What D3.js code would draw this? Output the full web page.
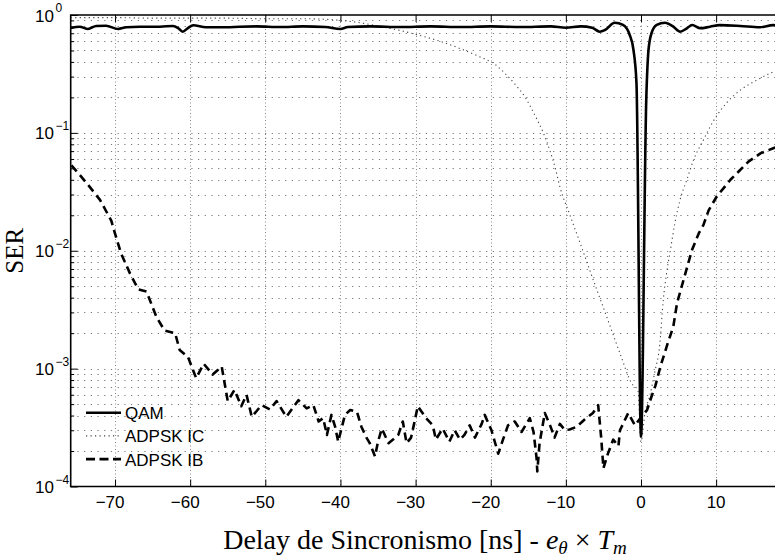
<!DOCTYPE html>
<html>
<head>
<meta charset="utf-8">
<script src="https://cdn.jsdelivr.net/npm/d3@7/dist/d3.min.js"></script>
<style>
  body { margin: 0; background: #fff; }
  svg { display: block; }
</style>
</head>
<body>
<div id="chart"></div>
<script>
// axis ticks
var xTicks = [-70, -60, -50, -40, -30, -20, -10, 0, 10];
var yDecades = [-4, -3, -2, -1, 0];

// QAM (solid)
var qamDelay = [-75.9, -74.7, -73.6, -72.5, -71.2, -69.6, -68.5, -66.7, -64, -62.3, -61.6, -61, -60.3, -59.6, -57.9, -55.2, -53.4, -51.2,
  -48, -45, -42, -40, -39, -36, -32, -28, -24, -20, -16, -12, -10, -8, -6.5,
  -5.5, -4.8, -3.5, -2.4, -1.5, -1.0, -0.6, 0, 0.7, 1.0, 1.4, 2.1, 3.2, 4.3, 5.2, 6.1, 6.8, 7.9, 9.2, 10.5, 13.2, 15.8, 17.6, 18.5];
var qamSer = [0.775, 0.796, 0.761, 0.807, 0.81, 0.761, 0.787, 0.796, 0.796, 0.807, 0.775, 0.722, 0.775, 0.818, 0.787, 0.787, 0.796, 0.80,
  0.79, 0.80, 0.79, 0.76, 0.79, 0.80, 0.79, 0.80, 0.79, 0.80, 0.79, 0.80, 0.78, 0.80, 0.78,
  0.722, 0.746, 0.86, 0.823, 0.677, 0.505, 0.263, 2.65e-4, 0.19, 0.505, 0.70, 0.823, 0.86, 0.796, 0.722, 0.771, 0.823, 0.771, 0.796, 0.82, 0.807, 0.787, 0.82, 0.81];

// ADPSK IC (dotted)
var icDelay = [-75.9, -70, -65, -60, -55, -50, -45, -42, -40, -37.4, -34.8, -32.1, -29.4, -26.8, -24.1, -21.4, -19.4, -18.1, -16.8, -15.4, -14.1,
  -13, -12.1, -11.4, -10.8, -9.45, -8.1, -6.35, -4.57, -2.8, -1.24, -0.4, 0, 0.53, 1.2, 1.86, 2.5, 2.96, 3.4, 3.9, 4.5, 5.2, 6.1, 7.0, 8.3,
  9.6, 11.4, 13.2, 15.4, 17.6, 18.5];
var icSer = [0.95, 0.95, 0.94, 0.94, 0.94, 0.93, 0.93, 0.92, 0.9, 0.86, 0.8, 0.74, 0.67, 0.6, 0.52, 0.44, 0.38, 0.32, 0.26, 0.2, 0.14,
  0.1, 0.07, 0.05, 0.035, 0.020, 0.0116, 5.65e-3, 2.76e-3, 1.35e-3, 7.5e-4, 6.5e-4, 2.4e-4, 4.2e-4, 6.0e-4, 9.5e-4, 1.6e-3, 3.8e-3, 6.4e-3, 0.010, 0.017, 0.027, 0.04, 0.059, 0.087,
  0.125, 0.18, 0.23, 0.28, 0.33, 0.35];

// ADPSK IB (dashed)
var ibDelay = [-75.8, -74.5, -73.4, -72.0, -70.5, -70.0, -69.2, -68.0, -66.9, -65.8, -64.5, -63.4, -62.0, -61.4, -60.3, -59.2, -58.2, -57.0,
  -55.8, -55.0, -54.1, -53.2, -52.5, -51.8, -50.5, -49.4, -48.5, -47.2, -45.6, -44.5, -43.6, -42.9, -42.3, -41.8, -41.2, -40.7, -40.3,
  -39.4, -38.7, -37.8, -37.2, -36.5, -36.1, -35.4, -35.0, -34.5, -33.6, -33.0, -32.3, -31.7, -31.2, -30.6, -30.2, -29.7, -28.6, -27.7,
  -27.3, -26.4, -25.5, -24.8, -24.1, -23.5, -22.8, -22.1, -21.2, -20.8, -19.9, -19.0, -18.3, -17.7, -16.8, -15.9, -14.8, -14.3, -13.9,
  -13.8, -13.5, -12.8, -12.1, -11.5, -10.8, -10.1, -9.5, -8.6, -7.5, -6.4, -5.7, -5.3, -5.0, -4.4, -3.7, -3.0, -2.8, -1.7, -0.8, -0.1,
  0.8, 1.4, 1.9, 2.6, 3.5, 4.3, 4.8, 5.9, 6.8, 7.7, 8.3, 9.0, 10.1, 11.0, 11.9, 13.0, 14.3, 15.9, 17.6, 18.5];
var ibSer = [0.053, 0.0425, 0.035, 0.027, 0.018, 0.014, 9.5e-3, 6.4e-3, 4.7e-3, 4.5e-3, 2.75e-3, 2.1e-3, 2.0e-3, 1.44e-3, 1.26e-3, 8.3e-4, 1.1e-3, 8.9e-4,
  1.04e-3, 5.3e-4, 6.6e-4, 4.8e-4, 6.0e-4, 3.9e-4, 4.9e-4, 4.5e-4, 5.3e-4, 3.9e-4, 5.4e-4, 4.6e-4, 4.9e-4, 3.56e-4, 3.8e-4, 2.74e-4, 4.05e-4, 3.2e-4, 2.4e-4,
  4.05e-4, 4.45e-4, 4.3e-4, 3.2e-4, 2.57e-4, 2.33e-4, 1.8e-4, 2.4e-4, 3.1e-4, 2.33e-4, 2.5e-4, 2.74e-4, 3.56e-4, 2.33e-4, 2.6e-4, 3.4e-4, 4.8e-4, 3.8e-4, 3.3e-4,
  2.5e-4, 3.1e-4, 2.4e-4, 3.0e-4, 2.5e-4, 2.74e-4, 3.3e-4, 2.6e-4, 3.4e-4, 4.05e-4, 3.0e-4, 1.9e-4, 2.57e-4, 3.3e-4, 3.56e-4, 2.9e-4, 3.8e-4, 2.9e-4, 1.75e-4,
  1.34e-4, 2.33e-4, 4.2e-4, 3.3e-4, 2.6e-4, 3.4e-4, 3.0e-4, 3.05e-4, 3.2e-4, 3.7e-4, 4.2e-4, 4.9e-4, 2.6e-4, 1.43e-4, 1.9e-4, 2.5e-4, 2.2e-4, 3.0e-4, 4.2e-4, 3.3e-4, 3.8e-4,
  4.45e-4, 5.8e-4, 7.1e-4, 1.05e-3, 1.6e-3, 2.27e-3, 3.6e-3, 6.4e-3, 0.0102, 0.0141, 0.0165, 0.022, 0.029, 0.034, 0.040, 0.047, 0.057, 0.067, 0.074, 0.078];

var W = 775, H = 558;
// plot box (right edge lies just past the window)
var pL = 70.7, pR = 780, pT = 15, pB = 486.5;

var svg = d3.select("#chart").append("svg")
  .attr("width", W).attr("height", H);

var x = d3.scaleLinear().domain([-75.9, 18.5]).range([pL, pR]);
var y = d3.scaleLog().domain([1e-4, 1]).range([pB, pT]);

// log ticks: decades + minor
var majorY = yDecades.map(function(e){ return Math.pow(10, e); });
var minorY = [];
for (var e = -4; e < 0; e++) {
  for (var m = 2; m <= 9; m++) minorY.push(m * Math.pow(10, e));
}

svg.append("defs").append("clipPath").attr("id", "clip")
  .append("rect").attr("x", pL).attr("y", pT)
  .attr("width", pR - pL).attr("height", pB - pT);

// grid
var grid = svg.append("g");
grid.selectAll(".gx").data(xTicks).enter().append("line")
  .attr("x1", function(d){ return Math.round(x(d)) + 0.5; })
  .attr("x2", function(d){ return Math.round(x(d)) + 0.5; })
  .attr("y1", pT).attr("y2", pB)
  .attr("stroke", "#888").attr("stroke-width", 1)
  .attr("stroke-dasharray", "1,2.5");
grid.selectAll(".gy").data(majorY.slice(1, -1).concat(minorY)).enter().append("line")
  .attr("x1", pL).attr("x2", pR)
  .attr("y1", function(d){ return Math.round(y(d)) + 0.5; })
  .attr("y2", function(d){ return Math.round(y(d)) + 0.5; })
  .attr("stroke", "#777").attr("stroke-width", 1)
  .attr("stroke-dasharray", "1.2,5.5");

// ticks (inward) via axes
function noDomain(g){ g.select(".domain").remove(); }
svg.append("g").attr("transform", "translate(0," + pB + ")")
  .call(d3.axisBottom(x).tickValues(xTicks).tickSize(-7).tickFormat("")).call(noDomain);
svg.append("g").attr("transform", "translate(0," + pT + ")")
  .call(d3.axisTop(x).tickValues(xTicks).tickSize(-7).tickFormat("")).call(noDomain);
svg.append("g").attr("transform", "translate(" + pL + ",0)")
  .call(d3.axisLeft(y).tickValues(majorY).tickSize(-7).tickFormat("")).call(noDomain);
svg.append("g").attr("transform", "translate(" + pL + ",0)")
  .call(d3.axisLeft(y).tickValues(minorY).tickSize(-3.5).tickFormat("")).call(noDomain);
svg.selectAll(".tick line").attr("stroke", "#000").attr("stroke-width", 1);

// frame
svg.append("path")
  .attr("d", "M" + pR + "," + pT + "H" + pL + "V" + pB + "H" + pR)
  .attr("fill", "none").attr("stroke", "#000").attr("stroke-width", 1.6);

// series
var plot = svg.append("g").attr("clip-path", "url(#clip)");
function series(xs, ys) { return xs.map(function(d, i){ return [d, ys[i]]; }); }
var lineSmooth = d3.line().x(function(d){ return x(d[0]); }).y(function(d){ return y(d[1]); }).curve(d3.curveMonotoneX);
var lineRaw = d3.line().x(function(d){ return x(d[0]); }).y(function(d){ return y(d[1]); });

plot.append("path").datum(series(icDelay, icSer))
  .attr("d", lineSmooth).attr("fill", "none")
  .attr("stroke", "#444").attr("stroke-width", 1.1).attr("stroke-dasharray", "1.2,3.3");
plot.append("path").datum(series(ibDelay, ibSer))
  .attr("d", lineRaw).attr("fill", "none")
  .attr("stroke", "#000").attr("stroke-width", 2.6).attr("stroke-dasharray", "8,5")
  .attr("stroke-linejoin", "round");
plot.append("path").datum(series(qamDelay, qamSer))
  .attr("d", lineSmooth).attr("fill", "none")
  .attr("stroke", "#000").attr("stroke-width", 2.6).attr("stroke-linejoin", "round");

// tick labels
var fs = 17, font = "'Liberation Sans', Arial, Helvetica, sans-serif";
svg.append("g").selectAll("text").data(xTicks).enter().append("text")
  .attr("x", function(d){ return x(d) + String(Math.abs(d)).length * 0.556 * fs / 2; })
  .attr("y", 507.5)
  .attr("text-anchor", "end")
  .attr("font-family", font).attr("font-size", fs)
  .text(function(d){ return d < 0 ? "\u2212" + Math.abs(d) : String(d); });

var yl = svg.append("g").selectAll("text").data(yDecades).enter().append("text")
  .attr("x", 35)
  .attr("y", function(d){ return y(Math.pow(10, d)) + 6.5; })
  .attr("font-family", font).attr("font-size", fs);
yl.append("tspan").text("10");
yl.append("tspan").attr("font-size", 12).attr("dx", 1.5).attr("dy", -9.5)
  .text(function(d){ return d < 0 ? "\u2212" + Math.abs(d) : String(d); });

// axis titles
var serif = "'Liberation Serif', 'Times New Roman', serif";
var xt = svg.append("text")
  .attr("x", 425).attr("y", 549)
  .attr("text-anchor", "middle")
  .attr("font-family", serif).attr("font-size", 28);
xt.append("tspan").text("Delay de Sincronismo [ns] - ");
xt.append("tspan").attr("font-style", "italic").text("e");
xt.append("tspan").attr("font-style", "italic").attr("font-size", 19).attr("dy", 5).text("\u03b8");
xt.append("tspan").attr("dy", -5).text(" \u00d7 ");
xt.append("tspan").attr("font-style", "italic").text("T");
xt.append("tspan").attr("font-style", "italic").attr("font-size", 19).attr("dy", 5).text("m");

svg.append("text")
  .attr("transform", "translate(23," + ((pT + pB) / 2) + ") rotate(-90)")
  .attr("text-anchor", "middle")
  .attr("font-family", serif).attr("font-size", 25)
  .text("SER");

// legend
var legendNames = ["QAM", "ADPSK IC", "ADPSK IB"];
var legendStroke = ["#000", "#444", "#000"];
var legendWidth = [2.6, 1.1, 2.6];
var legendDash = [null, "1.2,3.3", "9,4.5"];
var lg = svg.append("g");
legendNames.forEach(function(name, i){
  var ly = 412.7 + i * 23.2;
  lg.append("line").attr("x1", 86).attr("x2", 121).attr("y1", ly).attr("y2", ly)
    .attr("stroke", legendStroke[i]).attr("stroke-width", legendWidth[i])
    .attr("stroke-dasharray", legendDash[i]);
  lg.append("text").attr("x", 125).attr("y", ly + 6.5)
    .attr("font-family", font).attr("font-size", fs).text(name);
});
</script>
</body>
</html>
